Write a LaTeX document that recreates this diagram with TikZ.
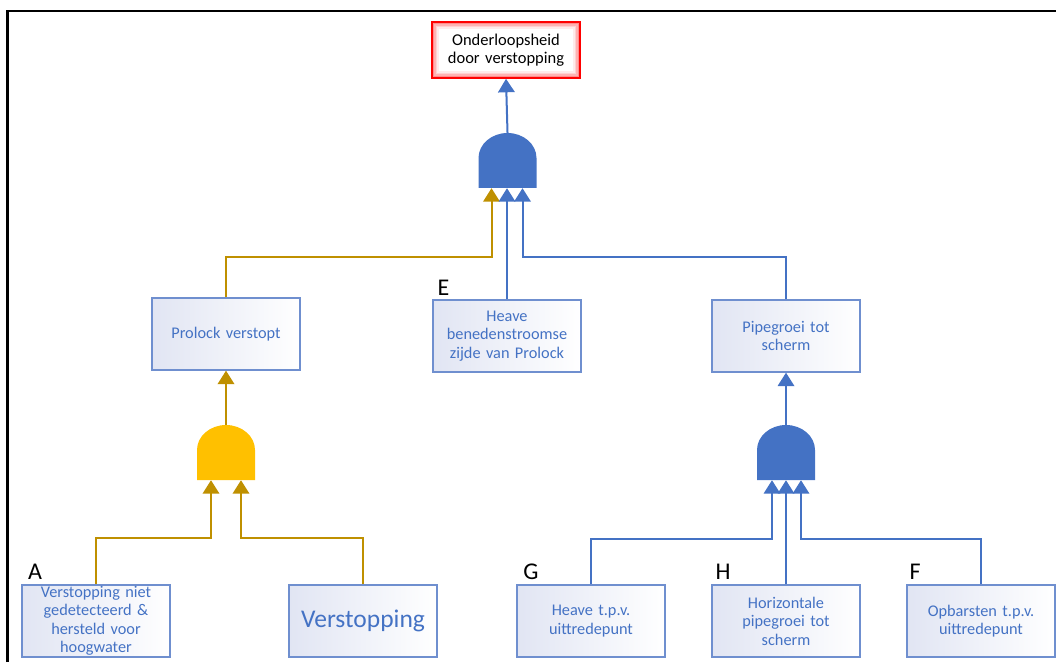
\documentclass[tikz,border=0pt]{standalone}
\usepackage{fontspec}
\setmainfont{Carlito}
\usetikzlibrary{arrows.meta,calc}
\definecolor{fblue}{HTML}{4472C4}
\definecolor{fgold}{HTML}{BF9000}
\definecolor{gatey}{HTML}{FFC000}
\definecolor{boxline}{HTML}{6F8FCF}
\definecolor{boxfill}{HTML}{E1E5F3}
\newcommand\myfs[2]{\fontsize{#1}{#2}\selectfont}
\begin{document}
\begin{tikzpicture}[x=1pt,y=1pt,
  event/.style={draw=boxline, line width=1.3pt, left color=boxfill, right color=white,
    minimum width=148pt, minimum height=72pt, inner sep=0pt, text width=146pt,
    align=center, font=\myfs{16.3}{18.5}, text=fblue},
  topevent/.style={draw=red, line width=1.6pt, fill=white, minimum width=148pt,
    minimum height=56pt, inner sep=0pt, text width=146pt, align=center,
    font=\myfs{16.5}{18}, text=black,
    path picture={
      \foreach \i/\o in {1.5/0.45,3/0.3,4.5/0.18,6/0.08}{
        \draw[red, opacity=\o, line width=1.6pt]
          ([shift={(\i pt,\i pt)}]path picture bounding box.south west) rectangle
          ([shift={(-\i pt,-\i pt)}]path picture bounding box.north east);}}},
  gate/.style={minimum width=58pt, minimum height=55pt, inner sep=0pt,
    path picture={\fill[#1] (path picture bounding box.south west) --
      ([yshift=-25pt]path picture bounding box.north west)
      arc[start angle=180,end angle=0,x radius=29pt,y radius=25pt] --
      (path picture bounding box.south east) -- cycle;}},
  conn/.style={line width=2pt, draw=#1, -{Triangle[width=16.5pt 0 1,length=13.5pt 0 1,fill=#1]}},
  lbl/.style={font=\myfs{24}{26}, text=black, inner sep=0pt}
]
\useasboundingbox (0,0) rectangle (1056,662);
\draw[line width=2.5pt] (7.5,0) -- (7.5,651) -- (1056,651);

% nodes
\node[topevent] (T) at (506,612) {Onderloopsheid\\door verstopping};
\node[gate=fblue] (G0) at (507.5,501.5) {};
\node[event] (P) at (226,328) {Prolock verstopt};
\node[event] (E) at (507,326) {Heave\\benedenstroomse\\zijde van Prolock};
\node[event] (R) at (786,326) {Pipegroei tot\\scherm};
\node[gate=gatey] (G1) at (226,209.5) {};
\node[gate=fblue] (G2) at (786,209.5) {};
\node[event] (A) at (96,41) {Verstopping niet\\gedetecteerd \&\\hersteld voor\\hoogwater};
\node[event, font=\myfs{25.5}{28}] (V) at (363,41) {Verstopping};
\node[event] (G) at (591,41) {Heave t.p.v.\\uittredepunt};
\node[event] (H) at (786,41) {Horizontale\\pipegroei tot\\scherm};
\node[event] (F) at (981,41) {Opbarsten t.p.v.\\uittredepunt};

% labels
\node[lbl] (lA) at (35,90) {A};
\node[lbl] (lE) at (443.5,374) {E};
\node[lbl] (lG) at (531,90) {G};
\node[lbl] (lH) at (723,90) {H};
\node[lbl] (lF) at (915,90) {F};

% connectors
\draw[conn=fblue] (G0.north) -- (T.south);
\draw[conn=fgold] (P.north) -- ++(0,40) -| ([xshift=-16pt]G0.south);
\draw[conn=fblue] (E.north) -- (E.north |- G0.south);
\draw[conn=fblue] (R.north) -- ++(0,42) -| ([xshift=15pt]G0.south);

\draw[conn=fgold] (G1.north) -- (P.south);
\draw[conn=fgold] (A.north) -- ++(0,46) -| ([xshift=-15pt]G1.south);
\draw[conn=fgold] (V.north) -- ++(0,46) -| ([xshift=15pt]G1.south);

\draw[conn=fblue] (G2.north) -- (R.south);
\draw[conn=fblue] (G.north) -- ++(0,45) -| ([xshift=-14pt]G2.south);
\draw[conn=fblue] (H.north) -- (G2.south);
\draw[conn=fblue] (F.north) -- ++(0,45) -| ([xshift=15pt]G2.south);
\end{tikzpicture}
\end{document}
